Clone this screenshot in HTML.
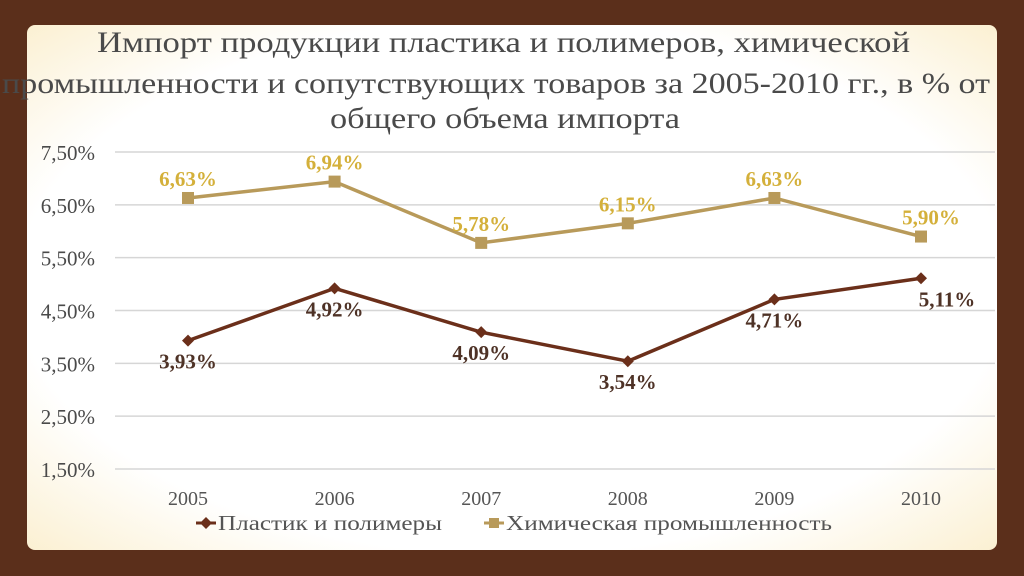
<!DOCTYPE html>
<html><head><meta charset="utf-8"><style>
html,body{margin:0;padding:0;width:1024px;height:576px;overflow:hidden;background:#5b2f1b;}
#panel{position:absolute;left:27px;top:25px;width:970px;height:525px;border-radius:8px;
background:radial-gradient(ellipse at center,#ffffff 72%,#fbf0d2 100%);}
.t{font-family:"Liberation Serif","Noto Serif CJK SC",serif;}
</style></head><body>
<div id="panel"></div>
<svg id="chart" width="1024" height="576" style="position:absolute;left:0;top:0">
<g class="t" fill="#4a4a4a" font-size="30">
<text x="97" y="52" textLength="813" lengthAdjust="spacingAndGlyphs">Импорт продукции пластика и полимеров, химической</text>
<text x="2" y="93" textLength="988" lengthAdjust="spacingAndGlyphs">промышленности и сопутствующих товаров за 2005-2010 гг., в % от</text>
<text x="330" y="128" textLength="350" lengthAdjust="spacingAndGlyphs">общего объема импорта</text>
</g>
<g id="grid"></g><g id="series"></g>
<g class="t" font-size="21" fill="#555">
<line x1="196" y1="523" x2="216" y2="523" stroke="#6b2f1a" stroke-width="3"/>
<path d="M206 517 L212 523 L206 529 L200 523Z" fill="#6b2f1a"/>
<text x="218" y="530" textLength="224" lengthAdjust="spacingAndGlyphs">Пластик и полимеры</text>
<line x1="484" y1="523" x2="504" y2="523" stroke="#b89a5a" stroke-width="3"/>
<rect x="489" y="518" width="10" height="10" fill="#b89a5a"/>
<text x="506" y="530" textLength="326" lengthAdjust="spacingAndGlyphs">Химическая промышленность</text>
</g>
</svg>
<script>
const years=["2005","2006","2007","2008","2009","2010"];
const plastics=[3.93,4.92,4.09,3.54,4.71,5.11];
const chemical=[6.63,6.94,5.78,6.15,6.63,5.90];
const ticks=[1.5,2.5,3.5,4.5,5.5,6.5,7.5];
const NS="http://www.w3.org/2000/svg";
const y=v=>469-(v-1.5)*52.83;
const x=i=>188+i*146.6;
function mk(t,a,p){const e=document.createElementNS(NS,t);for(const k in a)e.setAttribute(k,a[k]);p.appendChild(e);return e;}
const g=document.getElementById('grid'),s=document.getElementById('series');
const fmt=v=>v.toFixed(2).replace('.',',')+'%';
ticks.forEach(v=>{
 const l=mk('line',{x1:115,x2:995,y1:y(v),y2:y(v),stroke:'#d6d6d6','stroke-width':1.5},g);
 
 
 const t=mk('text',{x:95,y:y(v)+8,'text-anchor':'end','font-size':21,fill:'#4a4a4a',class:'t'},g);
 t.textContent=fmt(v);
 
 
});
years.forEach((yr,i)=>{
 const t=mk('text',{x:x(i),y:505,'text-anchor':'middle','font-size':20,fill:'#555',class:'t'},g);
 t.textContent=yr;
 
 
});
function series(vals,col,lc,square,above,name){
 const p=mk('polyline',{points:vals.map((v,i)=>x(i)+','+y(v)).join(' '),fill:'none',stroke:col,'stroke-width':3.5},s);
 
 
 vals.forEach((v,i)=>{
  let m;
  if(square)m=mk('rect',{x:x(i)-6,y:y(v)-6,width:12,height:12,fill:col},s);
  else m=mk('path',{d:`M${x(i)} ${y(v)-6}L${x(i)+6} ${y(v)}L${x(i)} ${y(v)+6}L${x(i)-6} ${y(v)}Z`,fill:col},s);
  
  
  const dy=above[i]?-12:28;
  const t=mk('text',{x:x(i)+(i==5&&!square?26:(i==5?10:0)),y:y(v)+dy,'text-anchor':'middle','font-size':21,'font-weight':'bold',fill:lc,class:'t'},s);
  t.textContent=fmt(v);
  
  
 });
}
series(chemical,'#b89a5a','#d4b03a',true,[1,1,1,1,1,1],'chemical');
series(plastics,'#6b2f1a','#4e3226',false,[0,0,0,0,0,0],'plastics');
</script>
</body></html>
